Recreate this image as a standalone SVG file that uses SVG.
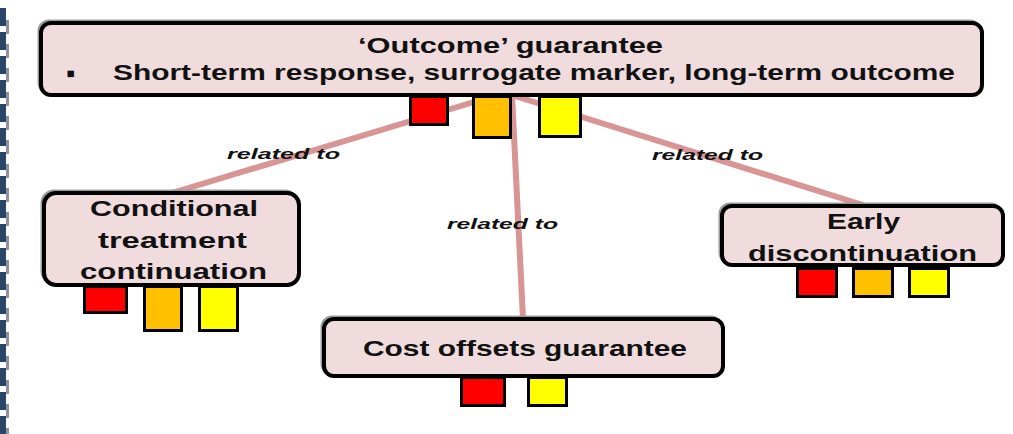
<svg xmlns="http://www.w3.org/2000/svg" width="1013" height="434" viewBox="0 0 1013 434">
<style>
.box{fill:#f0dcdc;stroke:#000;stroke-width:4}
.sh{fill:none;stroke:#9a9a9a;stroke-width:3}
.t{font-family:"Liberation Sans",Arial,sans-serif;font-weight:bold;font-size:22px;fill:#111}
.lbl{font-family:"Liberation Sans",Arial,sans-serif;font-weight:bold;font-style:italic;font-size:14px;fill:#111}
.conn{stroke:#d99594;stroke-width:6;fill:none}
.r{fill:#ff0000;stroke:#000;stroke-width:3}
.o{fill:#ffc000;stroke:#000;stroke-width:3}
.y{fill:#ffff00;stroke:#000;stroke-width:3}
</style>
<rect width="1013" height="434" fill="#fff"/>
<g id="edge-strip">
<line x1="3" y1="8" x2="3" y2="434" stroke="#2b4566" stroke-width="6" stroke-dasharray="18 6"/>
<line x1="7.5" y1="20" x2="7.5" y2="434" stroke="#8a93a0" stroke-width="3" stroke-dasharray="14 10"/>
</g>
<g id="connectors">
<line class="conn" x1="497" y1="95" x2="172" y2="193"/>
<line class="conn" x1="512" y1="95" x2="523" y2="319"/>
<line class="conn" x1="515" y1="96" x2="866" y2="206"/>
<text class="lbl" x="227" y="159" textLength="113" lengthAdjust="spacingAndGlyphs">related to</text>
<text class="lbl" x="447" y="229" textLength="111" lengthAdjust="spacingAndGlyphs">related to</text>
<text class="lbl" x="652" y="160" textLength="111" lengthAdjust="spacingAndGlyphs">related to</text>
</g>
<g id="node-outcome">
<rect class="sh" x="39" y="21" width="941" height="72" rx="10"/>
<rect class="box" x="41" y="23" width="941" height="72" rx="10"/>
<text class="t" x="358" y="53" textLength="305" lengthAdjust="spacingAndGlyphs">‘Outcome’ guarantee</text>
<text class="t" x="66" y="82" style="font-size:26px">▪</text>
<text class="t" x="113" y="80" textLength="842" lengthAdjust="spacingAndGlyphs">Short-term response, surrogate marker, long-term outcome</text>
<rect class="r" x="410.5" y="96.5" width="37" height="28"/>
<rect class="o" x="473.5" y="96.5" width="37" height="41"/>
<rect class="y" x="539.5" y="96.5" width="41" height="40"/>
</g>
<g id="node-conditional">
<rect class="sh" x="42" y="191" width="255" height="92" rx="12"/>
<rect class="box" x="44" y="193" width="255" height="92" rx="12"/>
<text class="t" x="90" y="216" textLength="168" lengthAdjust="spacingAndGlyphs">Conditional</text>
<text class="t" x="98" y="248" textLength="149" lengthAdjust="spacingAndGlyphs">treatment</text>
<text class="t" x="80" y="279" textLength="187" lengthAdjust="spacingAndGlyphs">continuation</text>
<rect class="r" x="84.5" y="286.5" width="42" height="26"/>
<rect class="o" x="144.5" y="286.5" width="37" height="44"/>
<rect class="y" x="199.5" y="286.5" width="38" height="44"/>
</g>
<g id="node-cost">
<rect class="sh" x="322" y="317" width="399" height="57" rx="10"/>
<rect class="box" x="324" y="319" width="399" height="57" rx="10"/>
<text class="t" x="363" y="356" textLength="324" lengthAdjust="spacingAndGlyphs">Cost offsets guarantee</text>
<rect class="r" x="461.5" y="377.5" width="43" height="28"/>
<rect class="y" x="528.5" y="377.5" width="38" height="28"/>
</g>
<g id="node-early">
<rect class="sh" x="720" y="204" width="281" height="59" rx="10"/>
<rect class="box" x="722" y="206" width="281" height="59" rx="10"/>
<text class="t" x="827" y="229" textLength="73" lengthAdjust="spacingAndGlyphs">Early</text>
<text class="t" x="748" y="261" textLength="229" lengthAdjust="spacingAndGlyphs">discontinuation</text>
<rect class="r" x="797.5" y="268.5" width="39" height="28"/>
<rect class="o" x="853.5" y="268.5" width="39" height="28"/>
<rect class="y" x="909.5" y="268.5" width="39" height="28"/>
</g>
</svg>
